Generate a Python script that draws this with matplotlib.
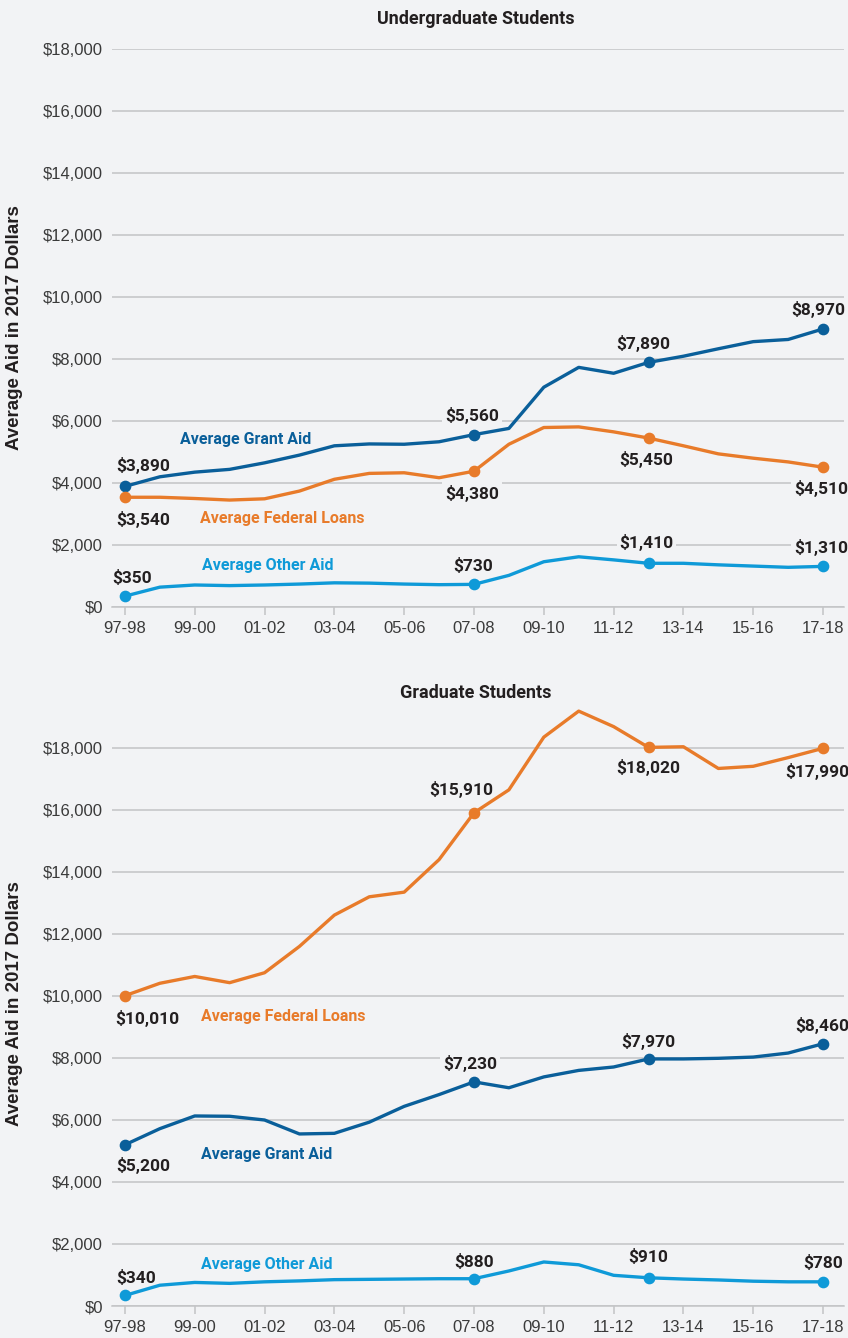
"""
Average aid per student in 2017 dollars, undergraduate vs graduate,
1997-98 to 2017-18. Two stacked line panels, saved to out.png.
"""

import matplotlib

matplotlib.use("Agg")
import matplotlib.pyplot as plt

years = [
    "97-98", "98-99", "99-00", "00-01", "01-02", "02-03", "03-04",
    "04-05", "05-06", "06-07", "07-08", "08-09", "09-10", "10-11",
    "11-12", "12-13", "13-14", "14-15", "15-16", "16-17", "17-18",
]
tick_years = years[::2]
marked = [0, 10, 15, 20]  # years with a dot and a value label

ug_grant = [3890, 4200, 4350, 4440, 4650, 4900, 5200, 5260, 5250, 5330, 5560,
            5760, 7090, 7730, 7540, 7890, 8090, 8330, 8560, 8630, 8970]
ug_loans = [3540, 3540, 3500, 3450, 3490, 3740, 4120, 4310, 4330, 4170, 4380,
            5250, 5790, 5810, 5650, 5450, 5200, 4940, 4800, 4680, 4510]
ug_other = [350, 640, 710, 690, 710, 740, 780, 770, 740, 720, 730,
            1020, 1460, 1620, 1520, 1410, 1410, 1360, 1320, 1280, 1310]

gr_grant = [5200, 5720, 6130, 6120, 6000, 5550, 5570, 5930, 6440, 6820, 7230,
            7040, 7390, 7600, 7710, 7970, 7970, 7990, 8030, 8160, 8460]
gr_loans = [10010, 10410, 10630, 10430, 10750, 11600, 12610, 13200, 13350, 14400,
            15910, 16650, 18350, 19190, 18690, 18020, 18040, 17340, 17410, 17690,
            17990]
gr_other = [340, 670, 760, 730, 780, 810, 850, 860, 870, 880, 880,
            1130, 1420, 1330, 990, 910, 870, 840, 800, 780, 780]

BG = "#f2f3f5"
GRID = "#c3c4c6"
INK = "#231f20"
TICK_INK = "#3a3a3a"
GRANT = "#0a5f9a"
LOANS = "#e87b2a"
OTHER = "#0f9ad8"

LABEL_FONT = ["Roboto", "DejaVu Sans"]
W, H = 848, 1338
PX = 72 / 100  # points per pixel at dpi 100


def fmt(v):
    return f"${v:,.0f}"


def panel(fig, top_px, bottom_px, ymax, title, title_px):
    ax = fig.add_axes([112 / W, 1 - bottom_px / H, 732 / W, (bottom_px - top_px) / H])
    ax.set_facecolor(BG)
    ax.set_xlim(-0.37, 20.6)
    ax.set_ylim(0, ymax)
    ax.set_yticks(range(0, 18001, 2000))
    ax.set_yticklabels([fmt(v) for v in range(0, 18001, 2000)])
    ax.set_xticks(range(0, len(years), 2))
    ax.set_xticklabels(tick_years)
    ax.grid(axis="y", color=GRID, linewidth=1.1, zorder=0)
    for s in ("top", "right", "left"):
        ax.spines[s].set_visible(False)
    ax.spines["bottom"].set_color(GRID)
    ax.spines["bottom"].set_linewidth(1.1)
    ax.tick_params(axis="y", length=0, pad=6.5, labelsize=12, labelcolor=TICK_INK)
    ax.tick_params(axis="x", length=6, width=1.1, color=GRID, pad=4,
                   labelsize=12, labelcolor=TICK_INK)
    for lab in ax.get_xticklabels() + ax.get_yticklabels():
        lab.set_family("Liberation Sans")
    fig.text(476 / W, 1 - title_px / H, title, ha="center", va="center",
             fontsize=13, fontweight="bold", color=INK, family=LABEL_FONT)
    ax.set_ylabel("Average Aid in 2017 Dollars", fontsize=13.5, fontweight="bold",
                  color=INK, family="Liberation Sans")
    ax.yaxis.set_label_coords(-89 / 732, 0.5)
    return ax


def series(ax, values, color, offsets):
    x = list(range(len(values)))
    ax.plot(x, values, color=color, linewidth=2.4, solid_joinstyle="round",
            zorder=3, clip_on=False)
    ax.plot(marked, [values[i] for i in marked], "o", color=color,
            markersize=7.4, zorder=4, clip_on=False)
    for i, (dx, dy) in zip(marked, offsets):
        ax.annotate(fmt(values[i]), (i, values[i]), textcoords="offset points",
                    xytext=(dx * PX, dy * PX), ha="center", va="center",
                    fontsize=12.5, fontweight="bold", color=INK, family=LABEL_FONT,
                    zorder=2,
                    bbox=dict(boxstyle="square,pad=0.15", fc=BG, ec="none"))


def name(ax, text, x, y, color):
    ax.text(x, y, text, ha="left", va="center", fontsize=11.5, fontweight="bold",
            color=color, family=LABEL_FONT, zorder=5)


fig = plt.figure(figsize=(W / 100, H / 100), dpi=100, facecolor=BG)

# undergraduate
ax1 = panel(fig, 49, 607, 18000, "Undergraduate Students", 19)
series(ax1, ug_grant, GRANT, [(18, 21), (-2, 19), (-5, 19), (-5, 19)])
series(ax1, ug_loans, LOANS, [(18, -22), (-2, -22), (-2, -21), (-2, -21)])
series(ax1, ug_other, OTHER, [(7, 18), (-1, 18), (-2, 21), (-2, 19)])
name(ax1, "Average Grant Aid", 1.58, 5390, GRANT)
name(ax1, "Average Federal Loans", 2.15, 2840, LOANS)
name(ax1, "Average Other Aid", 2.2, 1340, OTHER)

# graduate
ax2 = panel(fig, 701.5, 1306, 19500, "Graduate Students", 693)
series(ax2, gr_grant, GRANT, [(18, -21), (-4, 18), (0, 17), (-1, 18)])
series(ax2, gr_loans, LOANS, [(22, -23), (-13, 23), (0, -20), (-6, -23)])
series(ax2, gr_other, OTHER, [(11, 17), (0, 17), (0, 21), (0, 19)])
name(ax2, "Average Federal Loans", 2.17, 9330, LOANS)
name(ax2, "Average Grant Aid", 2.17, 4900, GRANT)
name(ax2, "Average Other Aid", 2.17, 1330, OTHER)

fig.savefig("out.png", dpi=100, facecolor=BG)
